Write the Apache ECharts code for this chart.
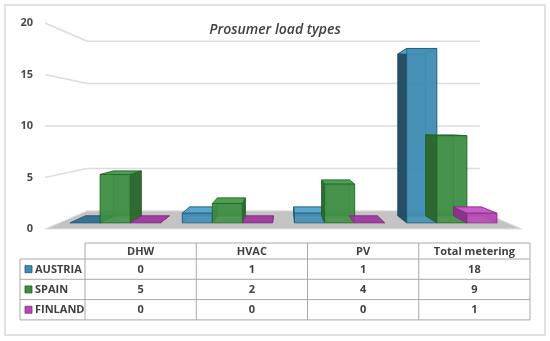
<!DOCTYPE html>
<html>
<head>
<meta charset="utf-8">
<script src="https://cdn.jsdelivr.net/npm/echarts@6/dist/echarts.min.js"></script>
<style>
html,body{margin:0;padding:0;background:#fff;}
#chart{width:550px;height:341px;}
</style>
</head>
<body>
<div id="chart"></div>
<script>
// ---- data ----
const titleText = 'Prosumer load types';
const categories = ['DHW', 'HVAC', 'PV', 'Total metering'];
const countries = ['AUSTRIA', 'SPAIN', 'FINLAND'];
const austria = [0, 1, 1, 18];
const spain = [5, 2, 4, 9];
const finland = [0, 0, 0, 1];
const yTicks = [0, 5, 10, 15, 20];

// ---- style ----
const valuesByCountry = [austria, spain, finland];
const palette = [
  {front:'#3f8db5', side:'#22495d', top:'#5aa5cb', back:'#2f6f90', stroke:'#1b5675'},
  {front:'#3e8e42', side:'#2a672d', top:'#4c9e50', back:'#357a38', stroke:'#1f6323'},
  {front:'#b548b5', side:'#8c2f8c', top:'#c55ec5', back:'#9e3a9e', stroke:'#862886'}
];
const eyeLevel = 10;
const floorBack = 0.8235;
const depthFront = 0.941, depthBack = 0.873;
const barRatio = 0.268;
const textFont = '"Open Sans", "Noto Sans", sans-serif';

const chart = echarts.init(document.getElementById('chart'), null, {renderer:'canvas'});

function geom(api) {
  const first = api.coord([0, 0]), last = api.coord([categories.length - 1, 0]);
  const band = api.size([1, 0])[0];
  const vx = (first[0] + last[0]) / 2;
  const vy = api.coord([0, eyeLevel])[1];
  const L = first[0] - band / 2, R = last[0] + band / 2;
  const P = (X, Y, s) => [vx + (X - vx) * s, vy + (Y - vy) * s];
  return {band, vx, vy, L, R, P};
}

function gridRender(params, api) {
  const g = geom(api);
  const v = api.value(0);
  const y = api.coord([0, v])[1];
  if (v === yTicks[0]) {
    return {
      type: 'polygon',
      shape: {points: [g.P(g.L, y, 1), g.P(g.R, y, 1), g.P(g.R, y, floorBack), g.P(g.L, y, floorBack)]},
      style: {fill: '#c3c3c3', stroke: '#e2e2e2', lineWidth: 1}
    };
  }
  return {
    type: 'polyline',
    shape: {points: [g.P(g.L, y, 1), g.P(g.L, y, floorBack), g.P(g.R, y, floorBack)]},
    style: {fill: null, stroke: '#dcdcdc', lineWidth: 1.5}
  };
}

function barRender(k) {
  return function (params, api) {
    const g = geom(api);
    const ci = api.value(0), v = api.value(1);
    const c0 = api.coord([ci, 0]);
    const cv = api.coord([ci, v]);
    const w = g.band * barRatio;
    const cx = c0[0] + (k - 1) * w;
    const xl = cx - w / 2, xr = cx + w / 2;
    const yb = c0[1], yt = cv[1];
    const f = depthFront, b = depthBack, P = g.P;
    const fBL = P(xl, yb, f), fBR = P(xr, yb, f), fTR = P(xr, yt, f), fTL = P(xl, yt, f);
    const bBL = P(xl, yb, b), bBR = P(xr, yb, b), bTR = P(xr, yt, b), bTL = P(xl, yt, b);
    const c = palette[k];
    const poly = (pts, fill, op) => ({
      type: 'polygon', shape: {points: pts},
      style: {fill: fill, opacity: op, stroke: c.stroke, lineWidth: 0.8}
    });
    const leftVis = xl > g.vx, rightVis = xr < g.vx;
    const children = [];
    children.push(poly([bBL, bBR, bTR, bTL], c.back, 0.6));
    const leftFace = [fBL, bBL, bTL, fTL], rightFace = [fBR, bBR, bTR, fTR];
    if (!leftVis) children.push(poly(leftFace, c.back, 0.5));
    if (!rightVis) children.push(poly(rightFace, c.back, 0.5));
    if (leftVis) children.push(poly(leftFace, c.side, 0.95));
    if (rightVis) children.push(poly(rightFace, c.side, 0.95));
    children.push(poly([fTL, fTR, bTR, bTL], v === 0 ? c.back : c.top, 0.95));
    if (v !== 0) children.push(poly([fBL, fBR, fTR, fTL], c.front, 0.88));
    return {type: 'group', children};
  };
}

// ---- table (graphic) ----
const tbl = {legendLeft: 20, left: 85, right: 530, headTop: 243, headH: 16, rowH: 20.3};
function tableGraphic() {
  const els = [];
  const colW = (tbl.right - tbl.left) / categories.length;
  const line = '#a9a9a9';
  const bodyTop = tbl.headTop + tbl.headH;
  const bottom = bodyTop + tbl.rowH * countries.length;
  const txt = (x, y, text, align) => ({type:'text', x: x, y: y,
    style:{text: text, fill:'#404040', fontFamily: textFont, fontWeight: 'bold', fontSize: 11,
           align: align, verticalAlign:'middle'}});
  els.push({type:'line', shape:{x1:tbl.left, y1:tbl.headTop, x2:tbl.right, y2:tbl.headTop}, style:{stroke:line, lineWidth:1}});
  for (let r = 0; r <= countries.length; r++) {
    const y = bodyTop + r * tbl.rowH;
    els.push({type:'line', shape:{x1:tbl.legendLeft, y1:y, x2:tbl.right, y2:y}, style:{stroke:line, lineWidth:1}});
  }
  els.push({type:'line', shape:{x1:tbl.legendLeft, y1:bodyTop, x2:tbl.legendLeft, y2:bottom}, style:{stroke:line, lineWidth:1}});
  for (let cI = 0; cI <= categories.length; cI++) {
    const x = tbl.left + cI * colW;
    els.push({type:'line', shape:{x1:x, y1:tbl.headTop, x2:x, y2:bottom}, style:{stroke:line, lineWidth:1}});
  }
  categories.forEach((cat, i) => {
    els.push(txt(tbl.left + (i + 0.5) * colW, tbl.headTop + tbl.headH / 2 + 0.5, cat, 'center'));
  });
  countries.forEach((name, r) => {
    const yc = bodyTop + (r + 0.5) * tbl.rowH;
    els.push({type:'rect', shape:{x:tbl.legendLeft + 5, y:yc - 3.5, width:7, height:7},
      style:{fill:palette[r].front, stroke:palette[r].stroke, lineWidth:0.8}});
    els.push(txt(tbl.legendLeft + 15, yc + 0.5, name, 'left'));
    valuesByCountry[r].forEach((val, i) => {
      els.push(txt(tbl.left + (i + 0.5) * colW, yc + 0.5, String(val), 'center'));
    });
  });
  els.push({type:'rect', shape:{x:5, y:5, width:540, height:330}, style:{fill:null, stroke:'#d9d9d9', lineWidth:1.5}, z:-1});
  return els;
}

const option = {
  backgroundColor: '#fff',
  animation: false,
  title: {
    text: titleText, left: 'center', top: 18,
    textStyle: {fontFamily: textFont, fontStyle: 'italic', fontWeight: 600, fontSize: 14, color: '#404040'}
  },
  grid: {left: 45, right: 28, top: 23, bottom: 112, containLabel: false},
  xAxis: {type: 'category', data: categories, show: false},
  yAxis: {
    type: 'value', min: 0, max: 20, interval: 5,
    axisLine: {show: false}, axisTick: {show: false}, splitLine: {show: false},
    axisLabel: {margin: 12, color: '#4a4a4a', fontSize: 11, fontWeight: 'bold', fontFamily: textFont}
  },
  series: [
    {type: 'custom', name: 'grid', renderItem: gridRender, data: yTicks.map(v => [v]), silent: true,
     encode: {y: 0}, clip: false}
  ].concat(countries.map((name, k) => ({
    type: 'custom', name: name, renderItem: barRender(k),
    data: valuesByCountry[k].map((v, i) => [i, v]),
    encode: {x: 0, y: 1}, clip: false
  }))),
  graphic: tableGraphic()
};
chart.setOption(option);
</script>
</body>
</html>
